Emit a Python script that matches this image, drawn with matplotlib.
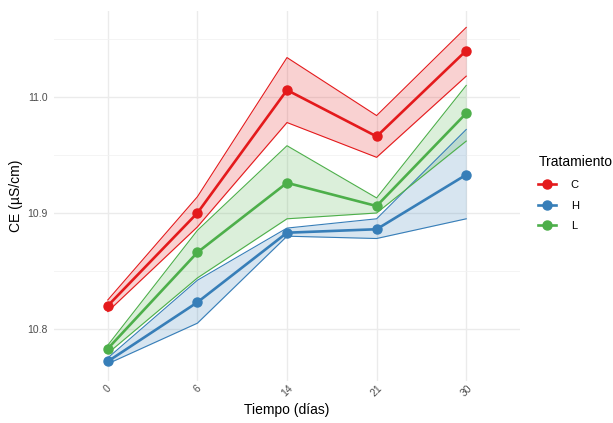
import matplotlib.pyplot as plt

plt.rcParams["font.family"] = ["Liberation Sans", "DejaVu Sans"]

# días de muestreo (eje categórico)
dias = ["0", "6", "14", "21", "30"]
tratamientos = ["C", "H", "L"]
colores = {"C": "#E41A1C", "H": "#377EB8", "L": "#4DAF4A"}

# medias y bandas (inferior / superior) por tratamiento
media = {
    "C": [10.820, 10.900, 11.006, 10.966, 11.040],
    "H": [10.772, 10.823, 10.883, 10.886, 10.933],
    "L": [10.783, 10.866, 10.926, 10.906, 10.986],
}
inferior = {
    "C": [10.815, 10.888, 10.978, 10.948, 11.018],
    "H": [10.770, 10.805, 10.880, 10.878, 10.895],
    "L": [10.779, 10.844, 10.895, 10.900, 10.962],
}
superior = {
    "C": [10.825, 10.914, 11.034, 10.984, 11.060],
    "H": [10.775, 10.842, 10.887, 10.895, 10.972],
    "L": [10.786, 10.885, 10.958, 10.913, 11.010],
}

fig = plt.figure(figsize=(6.13, 4.23), dpi=100)
ax = fig.add_axes([54 / 613, 1 - 380.6 / 423, (520 - 54) / 613, (380.6 - 10.6) / 423])

x = list(range(1, len(dias) + 1))

# bandas primero
for t in tratamientos:
    c = colores[t]
    ax.fill_between(x, inferior[t], superior[t], color=c, alpha=0.2, linewidth=0)
    ax.plot(x, inferior[t], color=c, linewidth=0.8)
    ax.plot(x, superior[t], color=c, linewidth=0.8)

# líneas y puntos
for t in tratamientos:
    ax.plot(x, media[t], color=colores[t], linewidth=1.9, marker="o",
            markersize=6.5, label=t)

ax.set_xlim(0.4, 5.6)
ax.set_ylim(10.7555, 11.0745)
ax.set_xticks(x)
ax.set_xticklabels(dias, rotation=45, ha="center", va="top")
ax.set_yticks([10.8, 10.9, 11.0])
ax.set_yticklabels(["10.8", "10.9", "11.0"])
ax.set_yticks([10.85, 10.95, 11.05], minor=True)

# tema tipo ggplot minimal
ax.grid(True, which="major", color="#EBEBEB", linewidth=1.0)
ax.grid(True, which="minor", axis="y", color="#F2F2F2", linewidth=0.6)
ax.set_axisbelow(True)
for s in ax.spines.values():
    s.set_visible(False)
ax.tick_params(axis="both", which="both", length=0, labelsize=7.5,
               labelcolor="#4D4D4D")
ax.tick_params(axis="x", pad=2)
ax.tick_params(axis="y", pad=4.5)

ax.set_xlabel("Tiempo (días)", fontsize=10, labelpad=3)
ax.set_ylabel("CE (µS/cm)", fontsize=10, labelpad=3)

leg = ax.legend(title="Tratamiento", loc="upper left",
                bbox_to_anchor=(534 / 613, 1 - 151 / 423),
                bbox_transform=fig.transFigure, frameon=False,
                fontsize=8, title_fontsize=10, handlelength=1.6,
                labelspacing=0.95, borderaxespad=0, handletextpad=1.3)
leg._legend_box.align = "left"

fig.savefig("out.png", dpi=100)
